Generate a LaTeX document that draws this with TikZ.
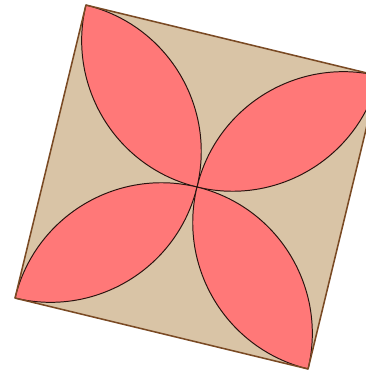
\documentclass[tikz,border=0pt]{standalone}
\usepackage{tikz}
\usepackage{xcolor}
\definecolor{sand}{HTML}{D9C4A6}
\definecolor{rim}{HTML}{7A4A24}
\definecolor{petalred}{HTML}{FF7878}
\definecolor{ink}{HTML}{2A1410}
\tikzset{
  tile/.style={fill=sand,draw=none},
  tilerim/.style={draw=rim,line width=1.1pt,line join=round},
  petal/.style={fill=petalred,draw=ink,line width=0.7pt,line join=round}
}
\begin{document}
\begin{tikzpicture}[x=0.025cm,y=0.025cm]
  \useasboundingbox (0,0) rectangle (366,371);
  \def\h{150.75}
  \begin{scope}[shift={(197,184)},rotate=-13.6]
    \coordinate (tl) at (-\h,\h);
    \coordinate (tr) at (\h,\h);
    \coordinate (br) at (\h,-\h);
    \coordinate (bl) at (-\h,-\h);
    \fill[tile] (tl) -- (tr) -- (br) -- (bl) -- cycle;
    % four petals, one per quarter
    \foreach \a in {0,90,180,270}{
      \draw[petal,rotate=\a] (0,0) arc (270:360:\h) arc (90:180:\h) -- cycle;
    }
    \draw[tilerim] (tl) -- (tr) -- (br) -- (bl) -- cycle;
  \end{scope}
\end{tikzpicture}
\end{document}
